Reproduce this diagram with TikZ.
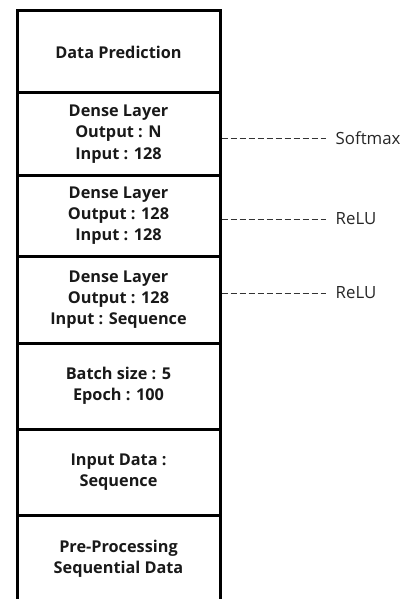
\documentclass[tikz,border=0pt]{standalone}
\usepackage{fontspec}
\setmainfont{Open Sans}
\begin{document}
\begin{tikzpicture}[x=0.75pt,y=-0.75pt,
  layerbox/.style={draw=black, line width=2.25pt, minimum width=152.25pt, inner sep=0pt,
    align=center, font=\bfseries\fontsize{12.2}{15.9}\selectfont, text=black!90},
  actline/.style={draw=black!80, line width=0.6pt, dash pattern=on 4.5pt off 2.25pt, shorten >=3.75pt},
  actlabel/.style={anchor=west, font=\fontsize{12.6}{14}\selectfont, text=black!85}]
\clip (0,0) rectangle (420,599);
\node[layerbox, minimum height=61.5pt] (b1) at (118.5,52) {Data Prediction};
\node[layerbox, minimum height=61.5pt] (b2) at (118.5,134) {Dense Layer\\Output : N\\Input : 128};
\node[layerbox, minimum height=60.75pt] (b3) at (118.5,215.5) {Dense Layer\\Output : 128\\Input : 128};
\node[layerbox, minimum height=65.25pt] (b4) at (118.5,299.5) {Dense Layer\\Output : 128\\Input : Sequence};
\node[layerbox, minimum height=64.5pt] (b5) at (118.5,386) {Batch size : 5\\Epoch : 100};
\node[layerbox, minimum height=64.5pt] (b6) at (118.5,472) {Input Data :\\Sequence};
\node[layerbox, minimum height=66pt] (b7) at (118.5,559) {Pre-Processing\\Sequential Data};
\node[actlabel] (l1) at (331,138) {Softmax};
\node[actlabel] (l2) at (331,219) {ReLU};
\node[actlabel] (l3) at (331,293) {ReLU};
\draw[actline] (b2.east |- l1.west) -- (l1.west);
\draw[actline] (b3.east |- l2.west) -- (l2.west);
\draw[actline] (b4.east |- l3.west) -- (l3.west);
\end{tikzpicture}
\end{document}
